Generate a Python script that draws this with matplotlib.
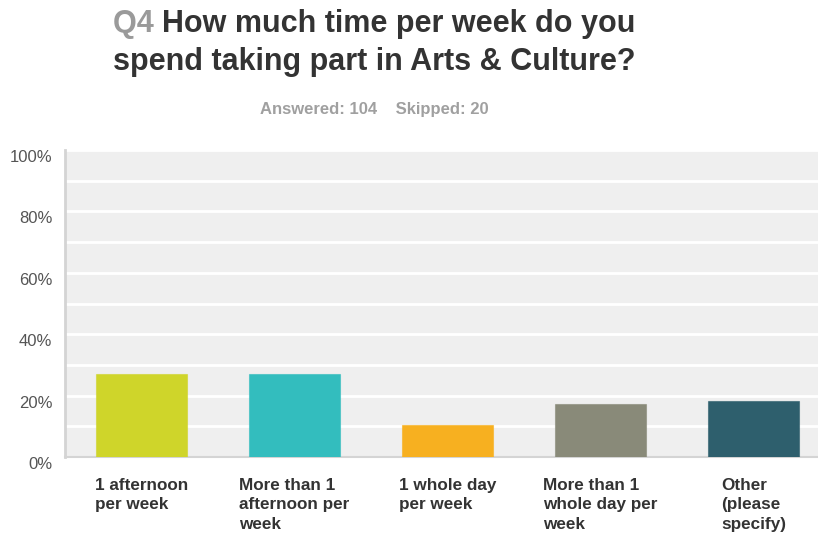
import matplotlib
matplotlib.use("Agg")
import matplotlib.pyplot as plt
import matplotlib.transforms as mtransforms
import numpy as np

plt.rcParams['font.family'] = ['Liberation Sans', 'DejaVu Sans']

# survey answers (percent of 104 respondents)
categories = ["1 afternoon\nper week",
              "More than 1\nafternoon per\nweek",
              "1 whole day\nper week",
              "More than 1\nwhole day per\nweek",
              "Other\n(please\nspecify)"]
percent = [26.92, 26.92, 10.58, 17.31, 18.27]
colors = ["#cfd52a", "#33bdbe", "#f7b020", "#898a79", "#2e5f6d"]
yticks = [0, 20, 40, 60, 80, 100]
ytick_labels = ["0%", "20%", "40%", "60%", "80%", "100%"]

W, H = 818, 536
fig = plt.figure(figsize=(W / 100, H / 100), dpi=100)

# plot area runs past the right edge of the image
left, right, top, bottom = 65, 830, 150, 457
ax = fig.add_axes([left / W, 1 - bottom / H, (right - left) / W, (bottom - top) / H])
ax.set_facecolor("#efefef")

x = np.arange(len(categories))
ax.bar(x, percent, width=0.6, color=colors, zorder=3, linewidth=0.8,
       edgecolor=[matplotlib.colors.to_rgba(c, 0.6) for c in colors])
ax.set_xlim(-0.5, len(categories) - 0.5)
ax.set_ylim(0, 100)

ax.set_axisbelow(True)
ax.set_yticks(yticks)
ax.set_yticklabels(ytick_labels, fontsize=12, color="#555555")
ax.set_yticks(np.arange(10, 100, 20), minor=True)
ax.yaxis.grid(True, which="both", color="white", linewidth=2)
ax.tick_params(axis="both", which="both", length=0)
# nudge tick labels down a touch
offset = mtransforms.ScaledTranslation(-0.08, -0.06, fig.dpi_scale_trans)
for lab in ax.get_yticklabels():
    lab.set_transform(lab.get_transform() + offset)

ax.set_xticks(x)
ax.set_xticklabels([])
for xi, lab in zip(x, categories):
    ax.text(xi, -6.8, lab, ha="center", va="top", multialignment="left",
            fontsize=12.3, fontweight="bold", color="#333333", linespacing=1.38)

for side in ["top", "right"]:
    ax.spines[side].set_visible(False)
ax.spines["left"].set_color("#d4d4d4")
ax.spines["left"].set_linewidth(2)
ax.spines["bottom"].set_color("#d4d4d4")
ax.spines["bottom"].set_linewidth(1.5)

# title: gray question number followed by the question
cx = 374 / W
tsize = 22
renderer = fig.canvas.get_renderer()
q_part = fig.text(0, 1 - 24 / H, "Q4 ", fontsize=tsize, fontweight="bold",
                  color="#9a9a9a", va="center", ha="left")
rest = fig.text(0, 1 - 24 / H, "How much time per week do you", fontsize=tsize,
                fontweight="bold", color="#333333", va="center", ha="left")
wq = q_part.get_window_extent(renderer).width / W
wr = rest.get_window_extent(renderer).width / W
x0 = cx - (wq + wr) / 2
q_part.set_x(x0)
rest.set_x(x0 + wq)
fig.text(cx, 1 - 62 / H, "spend taking part in Arts & Culture?", ha="center",
         va="center", fontsize=tsize, fontweight="bold", color="#333333")
fig.text(cx, 1 - 109 / H, "Answered: 104    Skipped: 20", ha="center", va="center",
         fontsize=12, fontweight="bold", color="#a0a0a0")

fig.savefig("out.png", dpi=100)
